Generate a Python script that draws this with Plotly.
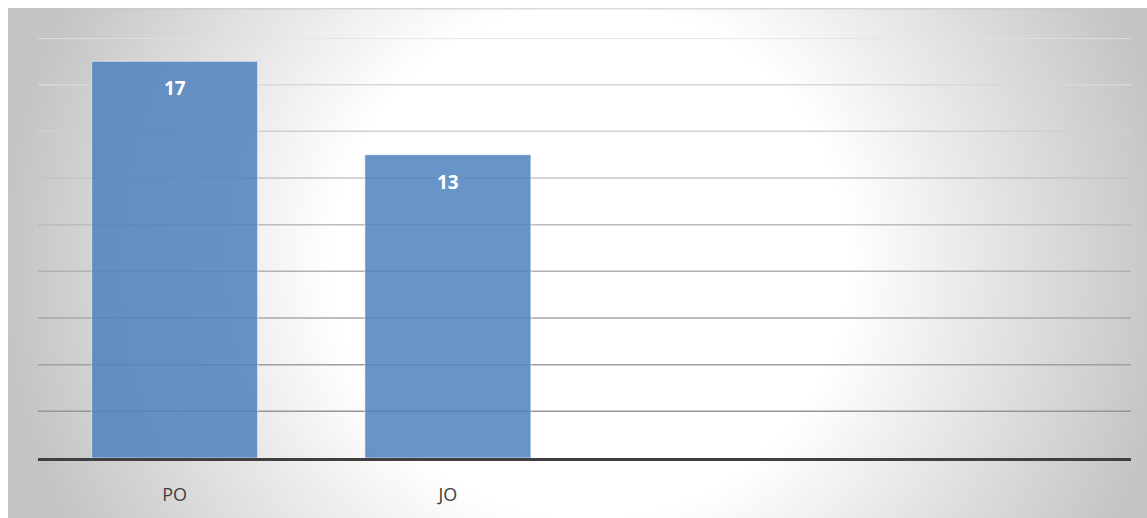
import base64
import plotly.graph_objects as go

# ---- data ----
categories = ["PO", "JO"]
values = [17, 13]
grid_values = [2, 4, 6, 8, 10, 12, 14, 16, 18]
y_max = 18

W, H = 1147, 518
L, R, T, B = 38, 16, 38, 58
plot_w = W - L - R
plot_h = H - T - B

# background radial gradient as an svg image (extends a little past the page edges)
IW, IH = 1150, 520
svg = f'''<svg xmlns="http://www.w3.org/2000/svg" width="{IW}" height="{IH}" viewBox="0 0 {IW} {IH}">
<defs><radialGradient id="g" gradientUnits="userSpaceOnUse" cx="582" cy="255" r="585">
<stop offset="0" stop-color="#ffffff"/>
<stop offset="0.44" stop-color="#ffffff"/>
<stop offset="1" stop-color="#c4c4c4"/>
</radialGradient></defs>
<rect x="0" y="0" width="{IW}" height="{IH}" fill="url(#g)"/>
<line x1="0" y1="0.6" x2="{IW}" y2="0.6" stroke="#bdbdbd" stroke-width="1.2"/>
</svg>'''
src = "data:image/svg+xml;base64," + base64.b64encode(svg.encode()).decode()

px0 = (8 - L) / plot_w
py0 = (H - B - 8) / plot_h
sx = IW / plot_w
sy = IH / plot_h

fig = go.Figure()
fig.add_trace(go.Bar(
    x=categories, y=values,
    marker=dict(color="rgba(79,129,189,0.85)",
                line=dict(color="rgba(255,255,255,0.55)", width=1)),
    hoverinfo="skip",
))

for c, v in zip(categories, values):
    fig.add_annotation(x=c, y=v, xref="x", yref="y", text=f"<b>{v}</b>",
                       showarrow=False, yanchor="middle", yshift=-27,
                       font=dict(family="Open Sans", size=19, color="white"))

shapes = []
for gv in grid_values:
    f = (gv - grid_values[0]) / (grid_values[-1] - grid_values[0])
    c = int(150 + f * (226 - 150))
    shapes.append(dict(type="line", xref="paper", yref="y", x0=0, x1=1, y0=gv, y1=gv,
                       line=dict(color=f"rgb({c},{c},{c})", width=1.5), layer="below"))

fig.update_layout(
    width=W, height=H,
    margin=dict(l=L, r=R, t=T, b=B, pad=0),
    paper_bgcolor="white",
    plot_bgcolor="rgba(0,0,0,0)",
    showlegend=False,
    bargap=0.3925,
    shapes=shapes,
    images=[dict(source=src, xref="paper", yref="paper", x=px0, y=py0,
                 sizex=sx, sizey=sy, xanchor="left", yanchor="top",
                 sizing="stretch", layer="below")],
    xaxis=dict(type="category", categoryorder="array", categoryarray=categories,
               range=[-0.5, 3.5], showgrid=False, zeroline=False,
               showline=True, linecolor="#404040", linewidth=3,
               ticks="", ticklabelstandoff=18,
               tickfont=dict(family="Open Sans", size=18, color="#404040")),
    yaxis=dict(range=[0, y_max], showgrid=False, zeroline=False, showline=False,
               showticklabels=False, ticks=""),
)

fig.write_html("out.html")
